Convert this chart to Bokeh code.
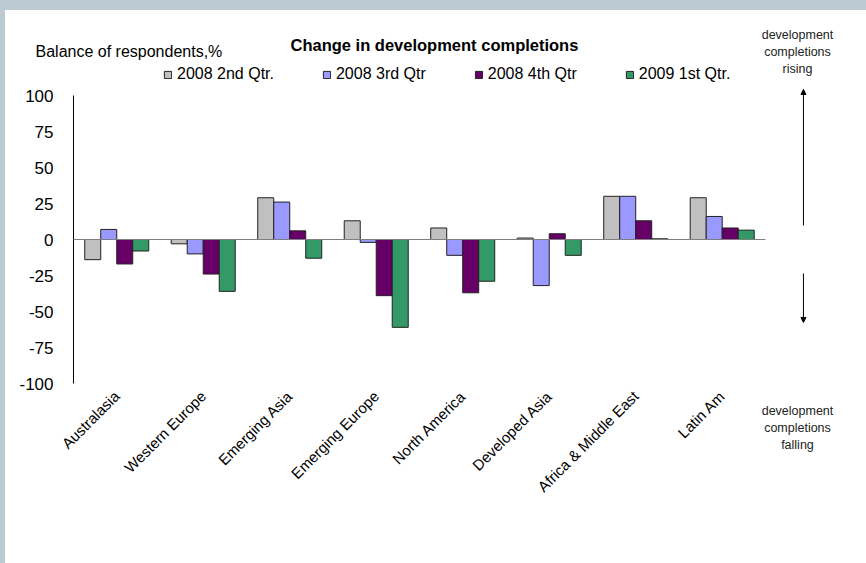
from bokeh.plotting import figure
from bokeh.models import (ColumnDataSource, Range1d, FixedTicker, Label, Arrow,
                          NormalHead, Legend, LegendItem)
from bokeh.layouts import column
from bokeh.embed import file_html
from bokeh.resources import INLINE
from math import pi

regions = ["Australasia", "Western Europe", "Emerging Asia", "Emerging Europe",
           "North America", "Developed Asia", "Africa & Middle East", "Latin Am"]

q2_2008 = [-14, -3, 29, 13, 8, 1, 30, 29]
q3_2008 = [7, -10, 26, -2, -11, -32, 30, 16]
q4_2008 = [-17, -24, 6, -39, -37, 4, 13, 8]
q1_2009 = [-8, -36, -13, -61, -29, -11, 0.5, 6.5]

series_names = ["2008 2nd Qtr.", "2008 3rd Qtr", "2008 4th Qtr", "2009 1st Qtr."]
series_values = [q2_2008, q3_2008, q4_2008, q1_2009]
series_colors = ["#c0c0c0", "#9999ff", "#660066", "#339966"]

y_ticks = [-100, -75, -50, -25, 0, 25, 50, 75, 100]

FONT = "Liberation Sans"

# one unit on x is one region group; the plotting area also holds the
# heading, legend and the side notes, so the ranges reach past the data
p = figure(width=861, height=553, x_range=Range1d(-0.497, 9.168),
           y_range=Range1d(-225, 159.03),
           output_backend="svg", toolbar_location=None,
           min_border_left=25, min_border_top=0, min_border_right=0,
           min_border_bottom=0)
p.outline_line_color = None
p.xgrid.grid_line_color = None
p.ygrid.grid_line_color = None
p.background_fill_color = "white"
p.border_fill_color = "white"

centers = [i + 0.5 for i in range(len(regions))]
bar_w = 0.185
offsets = [-1.5 * bar_w, -0.5 * bar_w, 0.5 * bar_w, 1.5 * bar_w]
renderers = []
for vals, off, color in zip(series_values, offsets, series_colors):
    src = ColumnDataSource(dict(x=[c + off for c in centers], top=vals))
    r = p.vbar(x="x", top="top", bottom=0, width=bar_w, source=src,
               fill_color=color, line_color="#222222", line_width=1)
    renderers.append(r)

# value axis line and the zero line
p.segment(x0=[0], y0=[y_ticks[0]], x1=[0], y1=[y_ticks[-1]], line_color="black", line_width=1)
p.segment(x0=[0], y0=[0], x1=[len(regions)], y1=[0], line_color="#7f7f7f", line_width=1)

# y axis labels
p.yaxis.ticker = FixedTicker(ticks=y_ticks)
p.yaxis.major_label_overrides = {t: str(t) for t in y_ticks}
p.yaxis.axis_line_color = None
p.yaxis.major_tick_line_color = None
p.yaxis.minor_tick_line_color = None
p.yaxis.major_tick_out = 0
p.yaxis.major_tick_in = 0
p.yaxis.major_label_standoff = -23
p.yaxis.major_label_text_font = FONT
p.yaxis.major_label_text_font_size = "17px"
p.yaxis.major_label_text_color = "black"

# region labels
p.xaxis.ticker = FixedTicker(ticks=centers)
p.xaxis.major_label_overrides = {c: name for c, name in zip(centers, regions)}
p.xaxis.axis_line_color = None
p.xaxis.major_tick_line_color = None
p.xaxis.minor_tick_line_color = None
p.xaxis.major_tick_out = 0
p.xaxis.major_tick_in = 0
p.xaxis.major_label_orientation = pi / 4
p.xaxis.major_label_standoff = -170
p.xaxis.major_label_text_font = FONT
p.xaxis.major_label_text_font_size = "15px"
p.xaxis.major_label_text_color = "black"

legend = Legend(items=[LegendItem(label=n, renderers=[r]) for n, r in zip(series_names, renderers)],
                orientation="horizontal", location=(133, 480), spacing=48,
                glyph_width=9, glyph_height=9, label_standoff=5, padding=0, margin=0,
                border_line_color=None, background_fill_alpha=0,
                label_text_font=FONT, label_text_font_size="16px",
                label_text_color="black")
p.add_layout(legend, "center")

def lab(text, x, y, size="16px", style="normal", align="left", color="black"):
    p.add_layout(Label(x=x, y=y, text=text, text_font=FONT, text_font_size=size,
                       text_font_style=style, text_align=align,
                       text_baseline="middle", text_color=color))

lab("Balance of respondents,%", -0.439, 130.6)
lab("Change in development completions", 4.173, 135.4, size="16.5px", style="bold", align="center")

for t, yv in zip(["development", "completions", "rising"], [141.7, 129.9, 118.1]):
    lab(t, 8.37, yv, size="12.5px", align="center", color="#222222")
for t, yv in zip(["development", "completions", "falling"], [-118.8, -130.6, -142.4]):
    lab(t, 8.37, yv, size="12.5px", align="center", color="#222222")

p.add_layout(Arrow(end=NormalHead(size=5, fill_color="black", line_color="black"),
                   x_start=8.439, y_start=9.7, x_end=8.439, y_end=104.2,
                   line_color="black", line_width=1))
p.add_layout(Arrow(end=NormalHead(size=5, fill_color="black", line_color="black"),
                   x_start=8.439, y_start=-23.6, x_end=8.439, y_end=-57.6,
                   line_color="black", line_width=1))

page = column(p, styles={"background-color": "white",
                         "border-top": "10px solid #bccad4",
                         "border-left": "5px solid #bccad4"})

open("out.html", "w").write(file_html(page, INLINE))
